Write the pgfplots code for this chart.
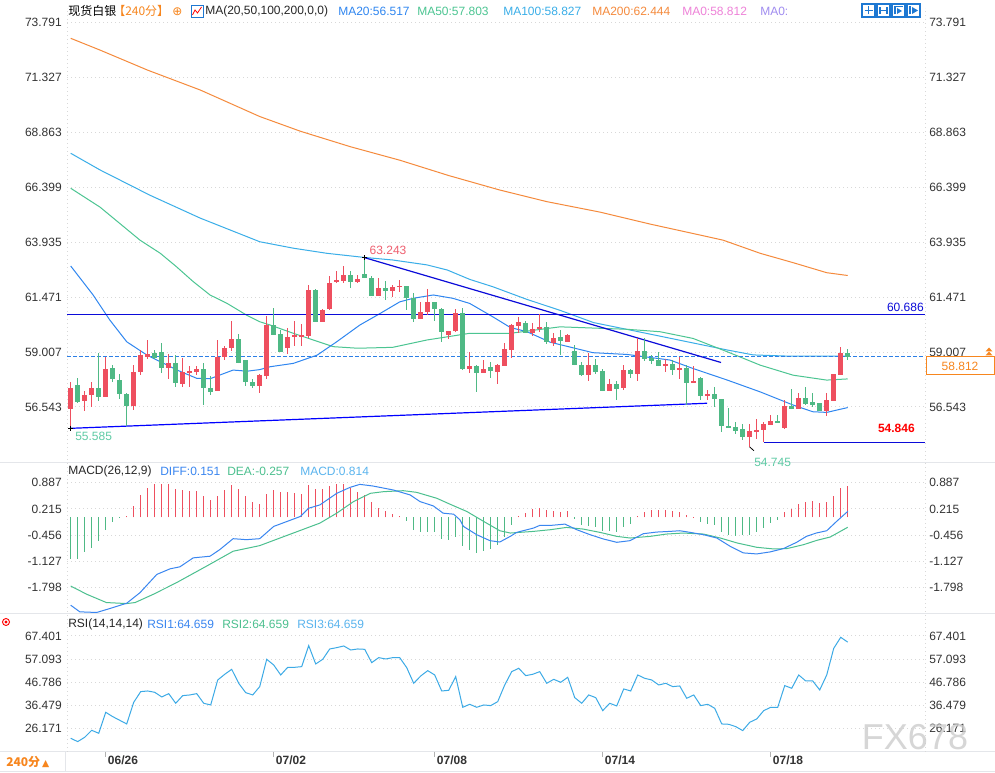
\documentclass[border=0pt]{standalone}
\usepackage{pgfplots}
\usepackage{pgfplotstable}
\pgfplotsset{compat=1.18}
\usepackage{fontspec}
\setmainfont{Liberation Sans}
\newfontfamily\cjk{Noto Sans CJK SC}
\newfontfamily\dejavu{DejaVu Sans}
\definecolor{cup}{HTML}{EE4F5F}
\definecolor{cdn}{HTML}{4FB985}
\definecolor{ma20}{HTML}{2F86F0}
\definecolor{ma50}{HTML}{4CC592}
\definecolor{ma100}{HTML}{3AAEE8}
\definecolor{ma200}{HTML}{F58A3C}
\definecolor{gridc}{HTML}{D8D8D8}
\definecolor{sepc}{HTML}{E4E6EA}
\definecolor{lbl}{HTML}{333333}
\definecolor{dkblue}{HTML}{0B0BD9}
\definecolor{orng}{HTML}{F7861E}
\definecolor{dashc}{HTML}{2C7FE6}
\definecolor{pinkc}{HTML}{EE82D8}
\definecolor{purpc}{HTML}{A08CF0}
\definecolor{lredc}{HTML}{EF5F6F}
\definecolor{lgrnc}{HTML}{5FCBA5}
\definecolor{difc}{HTML}{3A86F0}
\definecolor{deac}{HTML}{4CC08F}
\definecolor{macdc}{HTML}{5AB4EE}
\definecolor{rsic}{HTML}{3CAAE6}
\definecolor{iconc}{HTML}{1E78D2}
\newcommand\tf{\fontsize{9}{10.5}\selectfont}

\pgfplotstableread{
i o h l c
0 56.49 57.68 55.585 57.38
2 56.82 57.25 56.36 57.07
3 57.09 57.68 56.55 57.38
5 57.00 58.79 57.00 58.23
9 56.60 58.41 56.42 58.12
10 58.15 59.09 57.98 58.88
11 58.82 59.56 58.70 58.91
14 58.29 58.93 57.78 58.49
16 57.60 58.72 57.44 58.08
17 58.11 58.36 57.44 58.14
18 58.14 58.36 57.98 58.23
21 57.26 59.56 57.26 58.79
22 58.79 59.30 58.64 59.16
23 59.19 60.41 59.04 59.56
27 57.49 58.02 57.16 57.96
28 57.93 60.63 57.81 60.22
31 59.22 60.10 58.91 59.68
32 59.71 60.38 59.30 59.76
33 59.71 60.28 59.30 59.76
34 59.74 62.01 59.62 61.79
36 60.38 60.93 60.34 60.90
37 60.97 62.41 60.90 62.09
38 62.15 62.64 62.09 62.23
39 62.23 62.86 62.09 62.46
41 62.15 62.46 62.09 62.26
44 61.54 62.31 61.54 61.86
46 61.77 62.01 61.49 61.92
47 61.94 62.26 61.71 61.98
50 60.51 61.27 60.51 60.81
51 60.82 61.82 60.68 61.25
54 59.79 59.96 59.59 59.96
55 59.98 60.94 59.93 60.75
57 58.26 59.03 58.08 58.36
59 58.08 58.67 58.06 58.23
61 58.15 58.49 57.59 58.41
62 58.42 59.41 58.42 59.12
63 59.13 60.28 58.72 60.19
64 60.20 60.57 59.86 60.36
66 59.89 60.31 59.71 60.04
67 60.04 60.72 59.93 60.13
69 59.44 59.86 59.27 59.64
71 59.49 59.82 59.49 59.77
74 58.01 58.97 57.71 58.41
77 57.26 57.78 57.24 57.56
79 57.40 58.41 57.31 58.18
81 58.06 59.62 57.71 59.03
85 58.38 58.70 58.11 58.45
87 58.23 58.79 57.81 58.29
89 57.63 58.38 57.62 57.69
91 57.04 57.31 56.85 57.11
97 55.22 55.79 54.745 55.44
98 55.44 56.00 55.11 55.51
99 55.51 55.85 54.96 55.78
100 55.73 56.18 55.73 55.91
102 55.60 56.85 55.56 56.57
104 56.45 57.19 56.43 56.92
108 56.37 57.19 56.12 56.83
109 56.83 58.01 56.80 58.01
110 58.01 59.22 58.00 58.97
}\upT

\pgfplotstableread{
i o h l c
1 57.52 57.86 56.71 56.80
4 57.38 58.97 56.82 57.00
6 58.26 58.41 57.66 57.80
7 57.74 58.03 56.92 57.13
8 57.11 57.15 55.70 56.60
12 58.93 59.09 58.72 58.75
13 59.01 59.41 58.08 58.29
15 58.49 58.88 57.44 57.62
19 58.23 58.52 56.64 57.40
20 57.40 57.93 57.09 57.22
24 59.56 59.83 58.51 58.51
25 58.63 58.63 57.49 57.66
26 57.65 57.78 57.41 57.49
29 60.22 60.99 59.80 59.80
30 59.79 59.98 59.04 59.04
35 61.79 61.86 60.38 60.38
40 62.46 62.65 61.89 62.16
42 62.49 63.243 62.34 62.34
43 62.31 62.41 61.54 61.54
45 61.86 62.18 61.36 61.76
48 61.97 61.99 60.90 61.45
49 61.42 61.64 60.35 60.51
52 61.25 61.27 60.42 60.96
53 60.94 60.99 59.46 59.93
56 60.75 60.97 58.20 58.26
58 58.36 58.44 57.23 58.08
60 58.32 58.58 57.86 58.17
65 60.31 60.41 59.90 59.90
68 60.13 60.36 59.37 59.46
70 59.65 60.01 58.87 59.50
72 59.03 59.33 58.42 58.42
73 58.41 58.58 57.93 58.01
75 58.41 58.70 58.01 58.15
76 58.14 58.23 57.26 57.26
78 57.56 57.71 56.86 57.35
80 58.18 58.27 57.86 58.06
82 59.03 59.62 58.60 58.73
83 58.73 58.87 58.45 58.64
84 58.64 59.03 58.38 58.38
86 58.45 58.64 57.96 58.20
88 58.27 58.41 56.64 57.63
90 57.84 57.89 56.86 57.04
92 57.11 57.44 56.55 56.91
93 56.89 56.91 55.41 55.70
94 55.69 56.48 55.59 55.63
95 55.63 55.85 55.33 55.48
96 55.56 55.78 55.07 55.22
101 55.91 56.19 55.87 55.87
103 56.57 57.34 56.45 56.45
105 56.92 57.46 56.64 56.71
106 56.76 57.16 56.52 56.67
107 56.71 56.73 56.37 56.37
111 58.97 59.16 58.67 58.812
}\downT

\newcommand\candles[2]{%
\addplot[draw=none, mark=none, forget plot, error bars/.cd, y dir=both, y explicit, error mark=none, error bar style={draw=#2, line width=0.75pt}]
  table[x=i, y=c, y error plus expr=\thisrow{h}-\thisrow{c}, y error minus expr=\thisrow{c}-\thisrow{l}] {#1};
\addplot[draw=none, mark=none, forget plot, error bars/.cd, y dir=both, y explicit, error mark=none, error bar style={draw=#2, line width=3.75pt}]
  table[x=i, y expr=(\thisrow{o}+\thisrow{c})/2, y error expr=abs(\thisrow{c}-\thisrow{o})/2+0.015] {#1};
}

\pgfplotsset{panel/.style={scale only axis, width=643.5pt, xmin=-0.53, xmax=122.04,
  anchor=south west, axis line style={draw=none}, major tick length=0pt,
  xtick=\empty, ymajorgrids,
  grid style={gridc, dash pattern=on 0.75pt off 2.25pt, line width=0.75pt},
  yticklabel style={font=\tf, text=lbl, inner sep=0pt, xshift=-3.75pt}}}

\begin{document}
\begin{tikzpicture}[x=0.75pt,y=0.75pt]
\path[use as bounding box] (0,0) rectangle (995,773);
\fill[white] (0,0) rectangle (995,773);
\draw[sepc, line width=0.75pt] (0,310) -- (995,310);
\draw[sepc, line width=0.75pt] (0,159.5) -- (995,159.5);
\draw[sepc, line width=0.75pt] (0,21) -- (995,21);
\draw[sepc, line width=0.75pt] (0,1.5) -- (995,1.5);
\draw[sepc, line width=0.75pt] (65,1.5) -- (65,21);
\draw[gridc, dash pattern=on 0.75pt off 2.25pt, line width=0.75pt] (67,21) -- (67,765);
\draw[gridc, dash pattern=on 0.75pt off 2.25pt, line width=0.75pt] (925,21) -- (925,765);

% ---------------- main price panel
\begin{axis}[panel, at={(50.25pt,233.25pt)}, height=340.5pt, ymin=54.074, ymax=74.451,
  ytick={56.543,59.007,61.471,63.935,66.399,68.863,71.327,73.791},
  yticklabels={56.543,59.007,61.471,63.935,66.399,68.863,71.327,73.791}]
\addplot[ma200, line width=0.75pt] coordinates {(0,73.09) (4.2,72.56) (11,71.66) (18.5,70.77) (27,69.58) (32.8,68.92) (40,68.22) (47,67.62) (54,66.93) (61.3,66.28) (68,65.76) (75.6,65.29) (82.8,64.75) (89.9,64.26) (93.2,64.03) (98.5,63.44) (103.2,63.02) (108,62.57) (111,62.444)};
\addplot[ma100, line width=0.75pt] coordinates {(0,67.93) (4.2,67.18) (11.3,66.05) (18.5,65.02) (27,63.96) (31.8,63.67) (36.6,63.44) (41.8,63.26) (46,63.14) (50.9,62.92) (53.8,62.69) (57,62.27) (60.3,61.94) (65.1,61.38) (70,60.87) (74.7,60.33) (79.4,60.03) (85.6,59.63) (93.8,59.10) (97.5,58.88) (103,58.82) (111,58.827)};
\addplot[ma50, line width=0.75pt] coordinates {(0,66.36) (4.2,65.51) (9.9,64.03) (12.8,63.44) (15.1,62.84) (17.5,62.17) (19.9,61.57) (22.3,61.20) (25.1,60.67) (27,60.37) (28.5,60.22) (31.8,59.85) (37.5,59.25) (41,59.18) (46,59.22) (50.9,59.55) (57,59.85) (62.8,59.85) (69.9,60.14) (79.5,60.03) (84.2,59.92) (88.9,59.62) (93.8,59.02) (98.5,58.42) (103.2,57.97) (108,57.75) (111,57.803)};
\addplot[ma20, line width=0.75pt] coordinates {(0,62.87) (3.2,61.57) (5.6,60.44) (8,59.47) (10.9,58.87) (15.2,58.20) (18,57.83) (19.9,57.81) (23.2,58.20) (25.2,58.15) (27,58.22) (28.5,58.35) (31.8,58.50) (35.2,58.87) (38,59.47) (41.3,60.22) (44.2,60.74) (47,61.26) (48.9,61.42) (51.8,61.57) (54.6,61.42) (57,61.19) (60.3,60.59) (62.8,60.11) (65.2,59.92) (68.5,59.45) (74.6,58.98) (79.5,58.90) (85.6,58.65) (88.9,58.27) (93.8,57.75) (98.5,57.22) (103.2,56.63) (106,56.33) (108,56.30) (111,56.517)};
% drawn lines
\addplot[dkblue, line width=0.9pt] coordinates {(-0.53,60.686) (122.04,60.686)};
\addplot[dashc, line width=0.75pt, dash pattern=on 3pt off 1.5pt] coordinates {(-0.53,58.812) (122.04,58.812)};
\addplot[dkblue, line width=0.9pt] coordinates {(42,63.243) (92.9,58.54)};
\addplot[blue, line width=0.9pt] coordinates {(0,55.585) (90.9,56.71)};
\addplot[dkblue, line width=0.9pt] coordinates {(99,54.96) (122.04,54.96)};
\candles{\upT}{cup}
\candles{\downT}{cdn}
\addplot[only marks, mark=+, mark size=2pt, black, line width=0.5pt] coordinates {(42,63.243) (0,55.585)};
\addplot[black, line width=0.6pt] coordinates {(97,54.745) (97.6,54.58)};
\end{axis}

% ---------------- MACD panel
\begin{axis}[panel, at={(50.25pt,120pt)}, height=111.75pt, ymin=-2.457, ymax=1.367,
  ytick={-1.798,-1.127,-0.456,0.215,0.887},
  yticklabels={-1.798,-1.127,-0.456,0.215,0.887}]
\addplot[ycomb, cup, line width=0.75pt, mark=none, restrict y to domain=0:5] coordinates {(0,-1.06) (1,-1.08) (2,-0.89) (3,-0.78) (4,-0.62) (5,-0.32) (6,-0.11) (7,-0.02) (8,0.03) (9,0.30) (10,0.58) (11,0.75) (12,0.85) (13,0.85) (14,0.85) (15,0.72) (16,0.70) (17,0.68) (18,0.68) (19,0.55) (20,0.44) (21,0.55) (22,0.70) (23,0.82) (24,0.72) (25,0.55) (26,0.40) (27,0.35) (28,0.59) (29,0.70) (30,0.64) (31,0.64) (32,0.61) (33,0.59) (34,0.82) (35,0.72) (36,0.72) (37,0.81) (38,0.85) (39,0.85) (40,0.75) (41,0.65) (42,0.58) (43,0.38) (44,0.25) (45,0.17) (46,0.08) (47,0.03) (48,-0.10) (49,-0.32) (50,-0.38) (51,-0.37) (52,-0.38) (53,-0.55) (54,-0.59) (55,-0.50) (56,-0.75) (57,-0.85) (58,-0.91) (59,-0.87) (60,-0.82) (61,-0.72) (62,-0.51) (63,-0.21) (64,0.04) (65,0.11) (66,0.20) (67,0.25) (68,0.19) (69,0.16) (70,0.14) (71,0.16) (72,-0.04) (73,-0.20) (74,-0.23) (75,-0.25) (76,-0.34) (77,-0.34) (78,-0.38) (79,-0.25) (80,-0.17) (81,0.03) (82,0.13) (83,0.19) (84,0.19) (85,0.19) (86,0.16) (87,0.14) (88,0.06) (89,0.01) (90,-0.11) (91,-0.17) (92,-0.20) (93,-0.37) (94,-0.45) (95,-0.49) (96,-0.45) (97,-0.45) (98,-0.37) (99,-0.27) (100,-0.14) (101,-0.06) (102,0.13) (103,0.21) (104,0.34) (105,0.39) (106,0.42) (107,0.36) (108,0.39) (109,0.54) (110,0.74) (111,0.814)};
\addplot[ycomb, cdn, line width=0.75pt, mark=none, restrict y to domain=-5:0] coordinates {(0,-1.06) (1,-1.08) (2,-0.89) (3,-0.78) (4,-0.62) (5,-0.32) (6,-0.11) (7,-0.02) (48,-0.10) (49,-0.32) (50,-0.38) (51,-0.37) (52,-0.38) (53,-0.55) (54,-0.59) (55,-0.50) (56,-0.75) (57,-0.85) (58,-0.91) (59,-0.87) (60,-0.82) (61,-0.72) (62,-0.51) (63,-0.21) (72,-0.04) (73,-0.20) (74,-0.23) (75,-0.25) (76,-0.34) (77,-0.34) (78,-0.38) (79,-0.25) (80,-0.17) (90,-0.11) (91,-0.17) (92,-0.20) (93,-0.37) (94,-0.45) (95,-0.49) (96,-0.45) (97,-0.45) (98,-0.37) (99,-0.27) (100,-0.14) (101,-0.06)};
\addplot[deac, line width=0.75pt] coordinates {(0,-1.765) (2.3,-1.977) (5.1,-2.189) (8,-2.215) (9.2,-2.189) (11.8,-1.977) (15.1,-1.680) (19.4,-1.255) (23.2,-0.872) (27,-0.728) (31.8,-0.405) (35.6,-0.150) (38,0.105) (40.4,0.402) (42.8,0.614) (44.7,0.657) (47.5,0.682) (49.4,0.640) (52.3,0.487) (54.2,0.334) (56.6,0.147) (59,-0.108) (61.3,-0.346) (62.8,-0.405) (66.1,-0.363) (68.5,-0.320) (70.8,-0.261) (73.2,-0.303) (75.6,-0.388) (78,-0.490) (79.9,-0.533) (82.8,-0.490) (85.1,-0.431) (87.5,-0.405) (90.4,-0.431) (92.8,-0.533) (95.2,-0.660) (98,-0.771) (100.4,-0.813) (102.3,-0.805) (104.7,-0.703) (106.6,-0.592) (108.5,-0.507) (111,-0.257)};
\addplot[difc, line width=0.75pt] coordinates {(0,-2.257) (1.3,-2.427) (3.7,-2.444) (5.6,-2.342) (8,-2.206) (9.9,-1.935) (12.3,-1.467) (14.2,-1.323) (15.6,-1.272) (17.5,-1.042) (19.9,-1.000) (21.3,-0.830) (23.2,-0.550) (25.1,-0.575) (27,-0.550) (29,-0.235) (30.9,-0.108) (32.8,0.020) (34,0.232) (35.6,0.317) (38,0.614) (39.9,0.767) (41.3,0.844) (43.2,0.801) (46.1,0.699) (48.5,0.572) (49.9,0.402) (51.8,0.291) (53.2,0.105) (54.7,0.079) (55.6,-0.065) (56.1,-0.235) (58,-0.448) (59.9,-0.601) (61.3,-0.635) (62.8,-0.490) (63.7,-0.388) (66.1,-0.278) (67,-0.210) (68.5,-0.210) (70.6,-0.176) (72.3,-0.320) (74.2,-0.448) (76.1,-0.558) (78,-0.643) (79.9,-0.601) (81.8,-0.422) (83.7,-0.380) (85.6,-0.363) (87,-0.346) (88.5,-0.388) (90.4,-0.448) (92.3,-0.533) (94.2,-0.745) (96.1,-0.915) (98,-0.941) (99.9,-0.890) (101.8,-0.805) (103.7,-0.643) (105.1,-0.490) (106.5,-0.405) (108,-0.346) (109.4,-0.108) (111,0.151)};
\end{axis}

% ---------------- RSI panel
\begin{axis}[panel, at={(50.25pt,16.5pt)}, height=102pt, ymin=16.03, ymax=76.78,
  ytick={26.171,36.479,46.786,57.093,67.401},
  yticklabels={26.171,36.479,46.786,57.093,67.401},
  xtick={5,29,52,76,100}, xticklabels={06/26,07/02,07/08,07/14,07/18},
  x tick label style={font=\tf\bfseries, text=lbl, anchor=north west, inner sep=0pt, xshift=1.5pt, yshift=-3.5pt}]
\addplot[rsic, line width=0.75pt] coordinates {(0,21.71) (1,20.22) (2,22.16) (3,25.28) (4,23.94) (5,33.32) (6,31.38) (7,29.75) (8,28.11) (9,37.78) (10,42.55) (11,42.84) (12,42.25) (13,40.17) (14,41.65) (15,37.34) (16,40.76) (17,41.06) (18,41.65) (19,37.34) (20,36.59) (21,47.75) (22,50.28) (23,52.52) (24,46.27) (25,42.10) (26,41.06) (27,44.78) (28,56.98) (29,54.45) (30,49.99) (31,53.41) (32,53.41) (33,53.71) (34,63.09) (35,54.90) (36,56.98) (37,61.60) (38,62.19) (39,62.94) (40,61.15) (41,61.60) (42,61.45) (43,55.50) (44,57.73) (45,57.13) (46,57.73) (47,57.73) (48,53.26) (49,46.27) (50,49.54) (51,51.92) (52,49.99) (53,42.84) (54,43.14) (55,49.24) (56,35.55) (57,36.89) (58,35.55) (59,36.59) (60,36.30) (61,38.08) (62,45.52) (63,51.48) (64,52.97) (65,49.69) (66,50.29) (67,51.48) (68,46.27) (69,48.05) (70,46.71) (71,48.95) (72,39.87) (73,37.34) (74,41.06) (75,39.87) (76,34.06) (77,37.34) (78,36.15) (79,43.74) (80,42.84) (81,49.99) (82,48.50) (83,47.75) (84,45.52) (85,46.27) (86,44.78) (87,45.08) (88,39.57) (89,41.06) (90,36.30) (91,36.89) (92,35.10) (93,28.11) (94,27.96) (95,26.92) (96,25.14) (97,28.85) (98,30.34) (99,34.06) (100,35.55) (101,35.55) (102,45.23) (103,44.04) (104,49.99) (105,47.31) (106,47.31) (107,43.29) (108,49.99) (109,61.89) (110,66.81) (111,64.66)};
\end{axis}

% date tick marks
\foreach \xx in {105.7,273.7,434.7,602.7,770.7} \draw[gray!60, line width=0.6pt] (\xx,21) -- (\xx,16);

% ---------------- right tick labels
\begin{scope}[every node/.style={anchor=west, font=\tf, text=lbl, inner sep=0pt}]
\node at (929,750.3) {73.791};
\node at (929,695.4) {71.327};
\node at (929,640.5) {68.863};
\node at (929,585.6) {66.399};
\node at (929,530.7) {63.935};
\node at (929,475.8) {61.471};
\node at (929,420.9) {59.007};
\node at (929,366.0) {56.543};
\node at (929,290.3) {0.887};
\node at (929,264.1) {0.215};
\node at (929,238.0) {-0.456};
\node at (929,211.8) {-1.127};
\node at (929,185.7) {-1.798};
\node at (929,137.0) {67.401};
\node at (929,113.9) {57.093};
\node at (929,90.9) {46.786};
\node at (929,67.8) {36.479};
\node at (929,44.7) {26.171};
\end{scope}

% current price box
\draw[orng, line width=0.75pt, fill=white] (926,398) rectangle (994,416);
\node[font=\tf, text=orng, inner sep=0pt] at (960,407) {58.812};
\fill[orng] (985.5,417.5) -- (992.5,417.5) -- (989,421.5) -- cycle;
\fill[orng] (985.5,421.5) -- (992.5,421.5) -- (989,425.5) -- cycle;

% annotations
\begin{scope}[every node/.style={font=\tf, inner sep=0pt}]
\node[text=lredc] at (388,523) {63.243};
\node[text=lgrnc, anchor=west] at (75,337) {55.585};
\node[text=lgrnc, anchor=west] at (754,311) {54.745};
\node[text=dkblue, anchor=east] at (924,466) {60.686};
\node[text=red, anchor=east, font=\tf\bfseries] at (915,345) {54.846};
\end{scope}

% header
\begin{scope}[every node/.style={font=\tf, inner sep=0pt, anchor=west}]
\node[text=black] at (68,762) {\cjk 现货白银};
\node[text=orng] at (113,762) {\cjk 【240分】};
\node[text=orng] at (172,761.5) {\dejavu ⊕};
\node[text=black!85] at (205,762) {MA(20,50,100,200,0,0)};
\node[text=ma20] at (338,762) {MA20:56.517};
\node[text=ma50] at (417,762) {MA50:57.803};
\node[text=ma100] at (503,762) {MA100:58.827};
\node[text=ma200] at (592,762) {MA200:62.444};
\node[text=pinkc] at (682,762) {MA0:58.812};
\node[text=purpc] at (760,762) {MA0:};
\node[text=black!85] at (68,302) {MACD(26,12,9)};
\node[text=difc] at (160,302) {DIFF:0.151};
\node[text=deac] at (227,302) {DEA:-0.257};
\node[text=macdc] at (300,302) {MACD:0.814};
\node[text=black!85] at (68,148.5) {RSI(14,14,14)};
\node[text=difc] at (147,148.5) {RSI1:64.659};
\node[text=deac] at (222,148.5) {RSI2:64.659};
\node[text=macdc] at (297,148.5) {RSI3:64.659};
\node[text=orng, font=\tf\bfseries] at (6,11) {{\cjk 240分}\,{\dejavu\fontsize{7}{8}\selectfont ▲}};
\end{scope}
% small icons
\draw[iconc, line width=0.7pt] (191,756) rectangle (203,768);
\draw[red, line width=0.6pt] (192.5,758) -- (195,763) -- (197.5,760) -- (201.5,766);
\foreach \xx in {862,877,892,907} {
  \draw[iconc, line width=0.8pt] (\xx,756) rectangle (\xx+13,769);
}
\draw[iconc, line width=0.8pt] (868.5,758.5) -- (868.5,766.5) (864.5,762.5) -- (872.5,762.5);
\draw[iconc, line width=0.8pt] (880,759) -- (880,766) (880,762.5) -- (887,762.5) (887,759) -- (887,766);
\draw[iconc, line width=0.8pt] (895,758.5) -- (895,766.5) -- (903,766.5);
\fill[iconc] (897,759) -- (897,765) -- (902,762) -- cycle;
\draw[iconc, line width=0.8pt] (910,758.5) -- (910,766.5);
\fill[iconc] (912,759) -- (912,766) -- (918,762.5) -- cycle;
% RSI corner icon
\draw[red, line width=0.7pt] (6,151) circle (3.5);
\fill[red] (6,151) circle (1.6);
% watermark
\node[text=gray!40, font=\fontsize{27}{30}\selectfont, inner sep=0pt, opacity=0.8] at (915,36) {FX678};
\end{tikzpicture}
\end{document}
